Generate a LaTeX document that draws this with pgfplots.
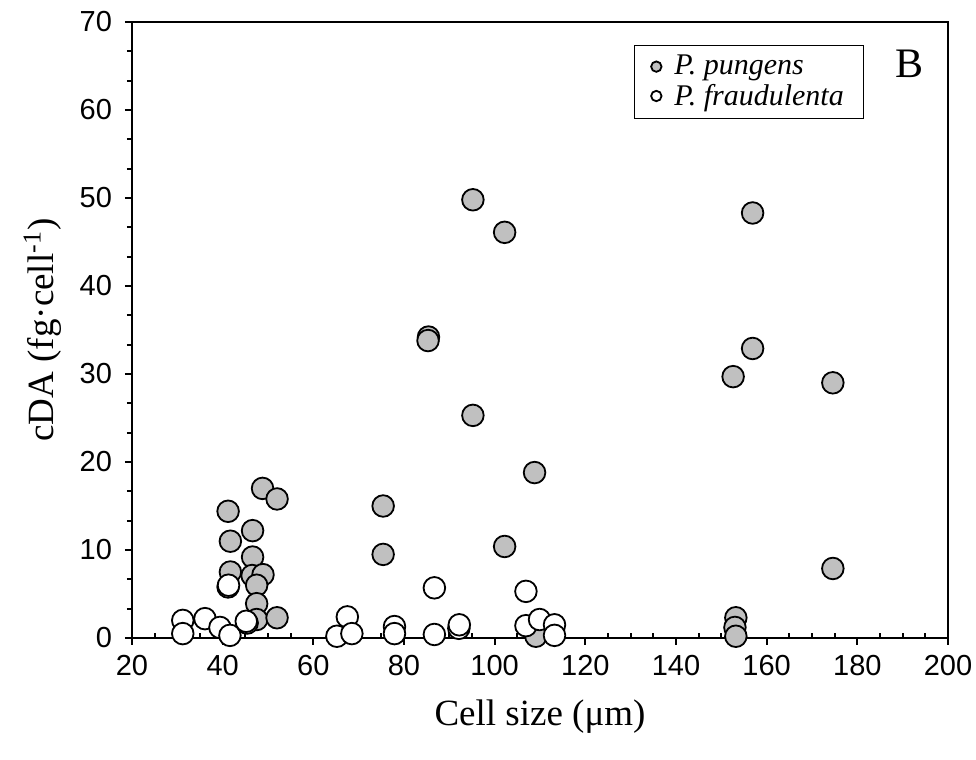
\documentclass[border=0pt]{standalone}
\usepackage{fontspec}
\setmainfont{Liberation Serif}
\newfontfamily\arialfont{Liberation Sans}
\usepackage{pgfplots}
\pgfplotsset{compat=1.18}
\definecolor{pgray}{HTML}{C0C0C0}

\begin{document}
\begin{tikzpicture}
\begin{axis}[
  name=ax, at={(0,0)}, anchor=south west,
  scale only axis, width=408pt, height=308pt,
  xmin=20, xmax=200, ymin=0, ymax=70,
  xtick={20,40,...,200}, ytick={0,10,...,70},
  minor x tick num=3, minor y tick num=2,
  tick pos=left, tick align=outside,
  major tick length=3.5pt, minor tick length=2.5pt,
  minor x tick style={yshift=2.5pt},
  every tick/.style={black, line width=0.9pt},
  axis line style={line width=1.2pt},
  tick label style={font=\arialfont\fontsize{14.5}{14.5}\selectfont},
  xticklabel style={yshift=-1.5pt},
  yticklabel style={xshift=-3pt},
  /pgf/number format/assume math mode=true,
  clip=false,
  xlabel={Cell size (μm)},
  ylabel={cDA (fg·cell\textsuperscript{-1})},
  label style={font=\fontsize{18.5}{20}\selectfont},
  xlabel style={at={(axis description cs:0.5,-0.127)}, anchor=center},
  ylabel style={at={(axis description cs:-0.11,0.5)}, anchor=center},
  legend style={at={(0.615,0.963)}, anchor=north west, draw=black, line width=0.5pt,
                font=\itshape\fontsize{15}{16}\selectfont, inner xsep=2pt, inner ysep=3pt,
                row sep=-1pt},
  legend cell align=left,
  legend image code/.code={%
    \path[draw=none, fill=none] (0pt,0pt) -- (16pt,0pt);
    \path[#1, draw=none, mark size=2.6pt, line width=0.6pt] plot[only marks] coordinates {(9pt,0pt)};},
]
% P. pungens
\addplot[only marks, mark=*, mark size=5.4pt, mark options={fill=pgray, draw=black, line width=0.9pt}]
coordinates {
(41.2,14.4) (41.7,11.0) (41.7,7.5) (46.6,12.2) (46.6,9.2) (46.5,7.1) (48.9,7.2)
(47.5,6.0) (47.5,3.9) (47.5,2.1) (48.8,17.0) (52.0,15.8) (52.0,2.3)
(75.4,15.0) (75.4,9.5) (85.4,34.2) (85.3,33.8) (95.2,49.8) (95.2,25.3)
(102.2,46.1) (102.2,10.4) (108.8,18.8) (109.1,0.2)
(152.6,29.7) (156.9,32.9) (156.9,48.3) (174.6,29.0) (174.6,7.9)
(153.2,2.3) (153.0,1.2) (153.2,0.2)
};
\addlegendentry{P. pungens}
% P. fraudulenta
\addplot[only marks, mark=*, mark size=5.4pt, mark options={fill=white, draw=black, line width=0.9pt}]
coordinates {
(31.2,2.0) (31.2,0.5) (36.1,2.2) (39.4,1.2) (41.6,0.3) (41.2,5.8) (41.3,6.0)
(45.4,1.7) (45.2,1.9) (65.2,0.2) (67.5,2.4) (68.5,0.5) (77.9,1.3) (77.9,0.5)
(86.7,5.7) (86.7,0.4) (92.1,1.1) (92.2,1.5) (106.9,5.3) (106.9,1.4)
(109.9,2.1) (113.2,1.5) (113.2,0.3)
};
\addlegendentry{P. fraudulenta\hspace*{6pt}}
\node[font=\fontsize{21}{21}\selectfont, anchor=center] at (axis cs:191.6,65.2) {B};
\end{axis}
\pgfresetboundingbox
\path[use as bounding box] (-66pt,-61pt) rectangle (422pt,319pt);
\end{tikzpicture}
\end{document}
